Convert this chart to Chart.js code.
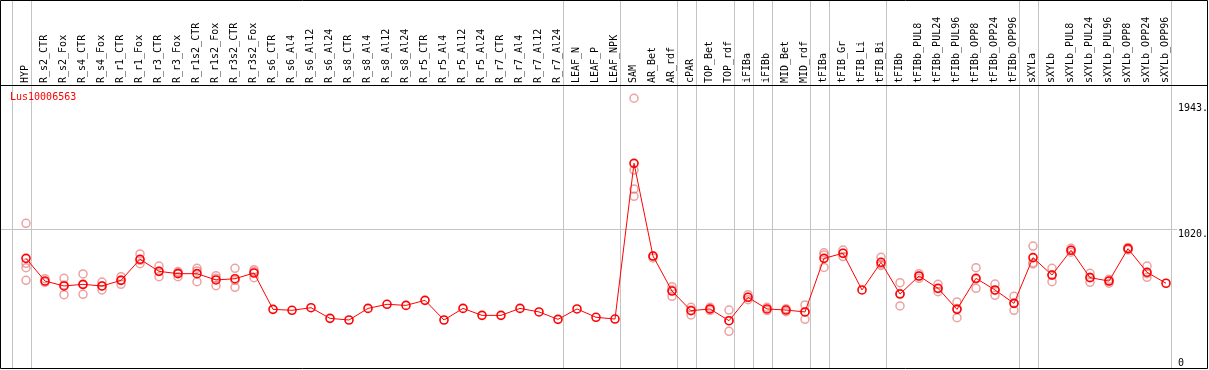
<!DOCTYPE html>
<html>
<head>
<meta charset="utf-8">
<script src="https://cdn.jsdelivr.net/npm/chart.js@4/dist/chart.umd.min.js"></script>
<style>
html,body{margin:0;padding:0;background:#fff;}
#wrap{width:1209px;height:370px;}
</style>
</head>
<body>
<div id="wrap"><canvas id="c" width="1209" height="370"></canvas></div>
<script>
const title = "Lus10006563";
const categories = ["HYP","R_s2_CTR","R_s2_Fox","R_s4_CTR","R_s4_Fox","R_r1_CTR","R_r1_Fox","R_r3_CTR","R_r3_Fox","R_r1s2_CTR","R_r1s2_Fox","R_r3s2_CTR","R_r3s2_Fox","R_s6_CTR","R_s6_Al4","R_s6_Al12","R_s6_Al24","R_s8_CTR","R_s8_Al4","R_s8_Al12","R_s8_Al24","R_r5_CTR","R_r5_Al4","R_r5_Al12","R_r5_Al24","R_r7_CTR","R_r7_Al4","R_r7_Al12","R_r7_Al24","LEAF_N","LEAF_P","LEAF_NPK","SAM","AR_Bet","AR_rdf","cPAR","TOP_Bet","TOP_rdf","iFIBa","iFIBb","MID_Bet","MID_rdf","tFIBa","tFIB_Gr","tFIB_Li","tFIB_Bi","tFIBb","tFIBb_PUL8","tFIBb_PUL24","tFIBb_PUL96","tFIBb_OPP8","tFIBb_OPP24","tFIBb_OPP96","sXYLa","sXYLb","sXYLb_PUL8","sXYLb_PUL24","sXYLb_PUL96","sXYLb_OPP8","sXYLb_OPP24","sXYLb_OPP96"];
const means = [802,636,600,612,600,641,795,707,690,690,644,653,695,429,422,441,363,351,436,466,458,495,351,436,385,385,436,410,356,432,371,358,1497,819,563,419,432,346,517,432,424,410,802,839,571,773,541,673,583,429,656,571,473,807,680,861,661,636,873,700,620];
const rep1 = [1058,653,656,688,629,668,834,746,697,729,675,729,719,null,null,null,null,null,null,null,null,null,null,null,null,null,null,null,null,null,null,null,1973,819,595,444,444,424,536,444,434,461,843,863,null,810,624,690,612,483,734,614,524,892,729,875,693,650,882,746,null];
const rep2 = [766,627,608,609,600,643,788,707,705,710,657,640,705,null,null,null,null,null,null,null,null,null,null,null,null,null,null,null,null,null,null,null,1448,805,570,425,432,346,517,420,412,410,827,840,null,760,545,673,580,436,650,567,473,770,680,861,663,636,873,690,null];
const rep3 = [734,null,536,539,571,612,763,668,668,631,602,590,661,null,null,null,null,null,null,null,null,null,null,null,null,null,null,null,null,null,null,null,1309,null,524,388,420,268,500,null,null,356,736,815,null,750,454,656,558,368,583,532,422,761,631,847,627,620,864,663,null];
const rep4 = [641,null,null,null,null,null,null,null,null,null,null,null,null,null,null,null,null,null,null,null,null,null,null,null,null,null,null,null,null,null,null,null,1256,null,null,null,null,null,null,null,null,null,null,null,null,null,null,null,null,null,null,null,null,null,null,null,null,null,null,null,null];
const tickValues = [1943, 1020, 0];
const tickLabels = ["1943.", "1020.", "0"];
const groupEnds = [-1,0,28,31,34,35,37,38,39,41,42,45,52,53,60];

const MONO = "10px 'DejaVu Sans Mono', monospace";
const repColor = "rgba(228,110,110,0.65)";

const decor = {
  id: "decor",
  beforeDatasetsDraw(chart) {
    const ctx = chart.ctx, x = chart.scales.x, y = chart.scales.y;
    const a = chart.chartArea;
    const step = x.getPixelForValue(1) - x.getPixelForValue(0);
    ctx.save();
    ctx.strokeStyle = "#c4c4c4";
    ctx.lineWidth = 1;
    const gy = Math.round(y.getPixelForValue(1020)) + 0.5;
    ctx.beginPath(); ctx.moveTo(1, gy); ctx.lineTo(1177, gy); ctx.stroke();
    groupEnds.forEach(i => {
      const px = Math.round(x.getPixelForValue(0) + step * i + step * 0.24) + 0.5;
      ctx.beginPath(); ctx.moveTo(px, 0); ctx.lineTo(px, a.bottom); ctx.stroke();
    });
    ctx.strokeStyle = "#000";
    ctx.beginPath();
    ctx.moveTo(0.5, 0.5); ctx.lineTo(1207.5, 0.5); ctx.lineTo(1207.5, 368.5); ctx.lineTo(0.5, 368.5); ctx.closePath();
    ctx.moveTo(0.5, 85.5); ctx.lineTo(1207.5, 85.5);
    ctx.stroke();
    ctx.fillStyle = "#000";
    ctx.font = MONO;
    ctx.textAlign = "left";
    ctx.textBaseline = "middle";
    categories.forEach((c, i) => {
      const px = x.getPixelForValue(i) - 1;
      ctx.save();
      ctx.translate(px, 83);
      ctx.rotate(-Math.PI / 2);
      ctx.fillText(c, 0, 0);
      ctx.restore();
    });
    ctx.textBaseline = "top";
    tickValues.forEach((v, k) => {
      let ty = y.getPixelForValue(v) + 1;
      if (ty > 358) ty = 358;
      ctx.fillText(tickLabels[k], 1178, ty);
    });
    ctx.fillStyle = "#ff0000";
    ctx.textBaseline = "middle";
    ctx.fillText(title, 10, 97);
    ctx.restore();
  }
};

function repSet(data) {
  return {
    data: data, showLine: false, borderColor: repColor, backgroundColor: "rgba(0,0,0,0)",
    pointRadius: 4, pointBorderWidth: 1.5, pointHoverRadius: 4, clip: false
  };
}

new Chart(document.getElementById("c"), {
  type: "line",
  data: {
    labels: categories,
    datasets: [
      { data: means, borderColor: "#ff0000", borderWidth: 1, backgroundColor: "rgba(0,0,0,0)",
        pointRadius: 4, pointBorderWidth: 1.6, pointBorderColor: "#ff0000", tension: 0, clip: false },
      repSet(rep1), repSet(rep2), repSet(rep3), repSet(rep4)
    ]
  },
  options: {
    responsive: false,
    animation: false,
    events: [],
    layout: { autoPadding: false, padding: { left: 26, right: 43, top: 85, bottom: 2 } },
    plugins: { legend: { display: false }, tooltip: { enabled: false } },
    scales: {
      x: { type: "category", display: false, offset: false },
      y: { type: "linear", display: false, min: 0, max: 2070 }
    }
  },
  plugins: [decor]
});
</script>
</body>
</html>
